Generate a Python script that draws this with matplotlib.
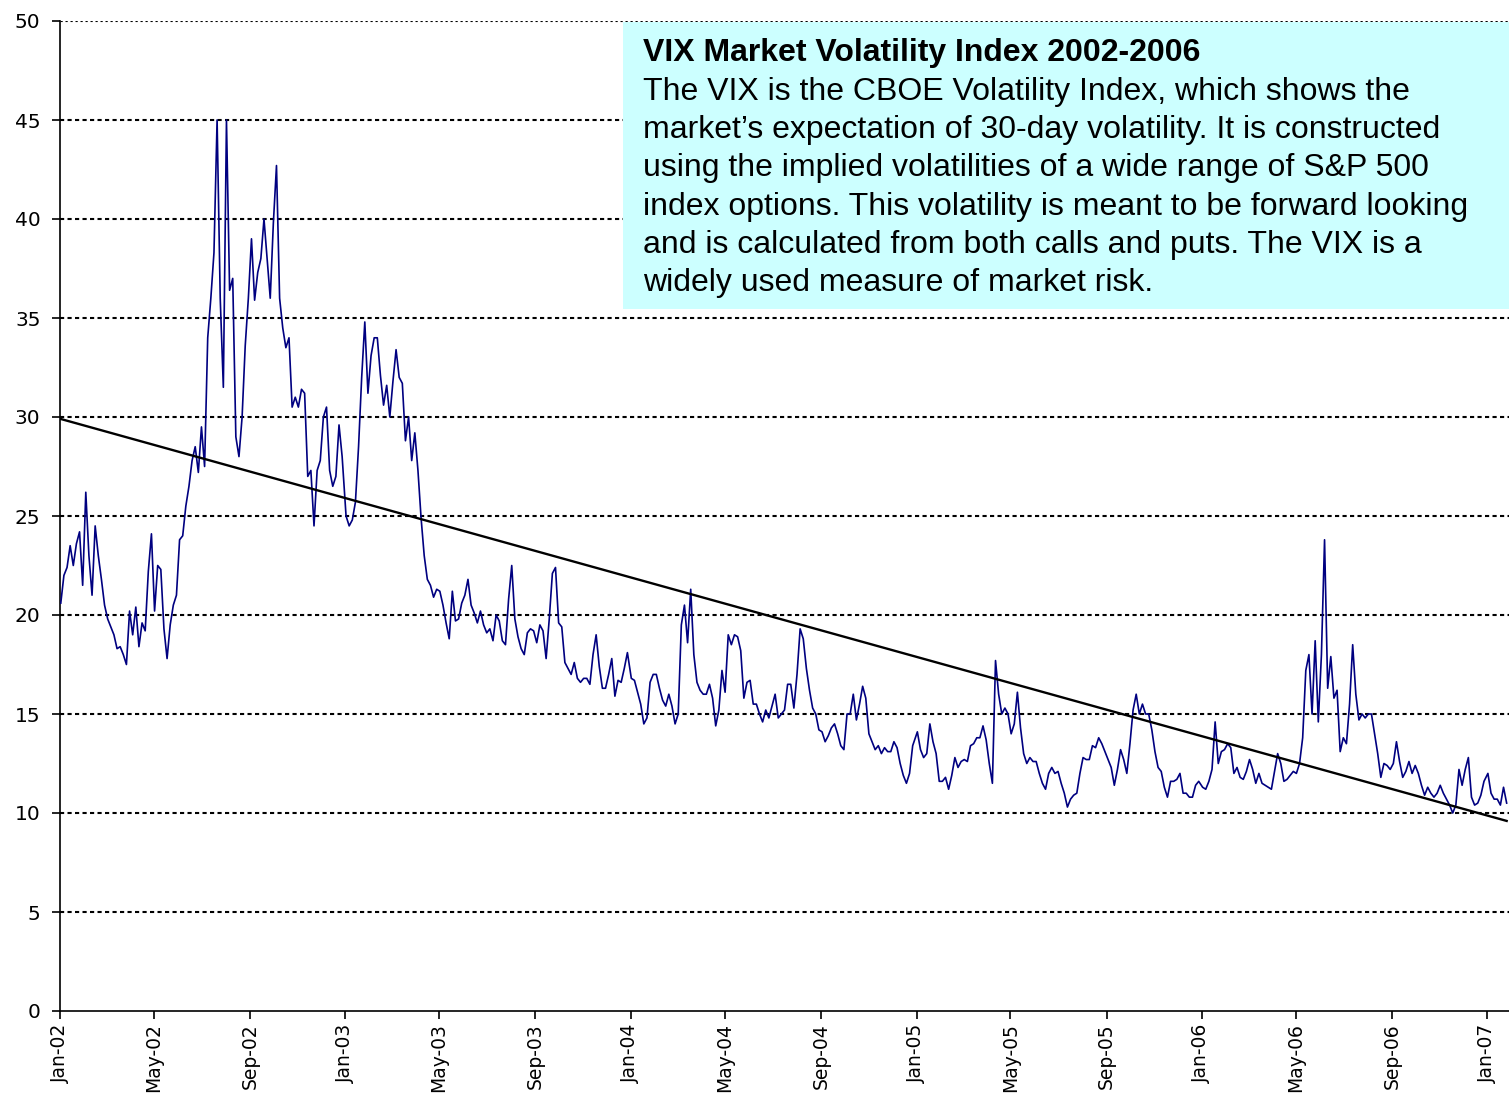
import numpy as np
import pandas as pd
import matplotlib
matplotlib.use("Agg")
import matplotlib.pyplot as plt
import matplotlib.dates as mdates
from matplotlib.patches import Rectangle

# VIX closes, one reading every 4 days from Jan 2 of each year
vix_2002 = [20.6, 22.0, 22.4, 23.5, 22.5, 23.6, 24.2, 21.5, 26.2, 23.0,
            21.0, 24.5, 23.0, 21.8, 20.5, 19.8, 19.4, 19.0, 18.3, 18.4,
            18.0, 17.5, 20.2, 19.0, 20.4, 18.4, 19.6, 19.2, 22.2, 24.1,
            20.2, 22.5, 22.3, 19.3, 17.8, 19.5, 20.5, 21.0, 23.8, 24.0,
            25.5, 26.5, 27.8, 28.5, 27.2, 29.5, 27.5, 34.0, 36.0, 38.3,
            45.0, 36.0, 31.5, 45.0, 36.4, 37.0, 29.0, 28.0, 30.0, 33.6,
            36.0, 39.0, 35.9, 37.3, 38.0, 40.0, 38.0, 36.0, 39.8, 42.7,
            36.0, 34.5, 33.5, 34.0, 30.5, 31.0, 30.5, 31.4, 31.2, 27.0,
            27.3, 24.5, 27.3, 27.8, 30.0, 30.5, 27.3, 26.5, 27.0, 29.6,
            28.0]
vix_2003 = [25.0, 24.5, 24.8, 25.7, 28.5, 32.0, 34.8, 31.2, 33.1, 34.0,
            34.0, 32.1, 30.6, 31.6, 30.0, 31.8, 33.4, 32.0, 31.7, 28.8,
            30.0, 27.8, 29.2, 27.3, 24.9, 23.0, 21.8, 21.5, 20.9, 21.3,
            21.2, 20.5, 19.6, 18.8, 21.2, 19.7, 19.8, 20.6, 21.0, 21.8,
            20.5, 20.1, 19.6, 20.2, 19.5, 19.1, 19.3, 18.7, 20.0, 19.7,
            18.7, 18.5, 20.8, 22.5, 19.8, 18.9, 18.3, 18.0, 19.1, 19.3,
            19.2, 18.6, 19.5, 19.2, 17.8, 19.8, 22.1, 22.4, 19.6, 19.4,
            17.6, 17.3, 17.0, 17.6, 16.8, 16.6, 16.8, 16.8, 16.5, 18.0,
            19.0, 17.4, 16.3, 16.3, 17.0, 17.8, 15.9, 16.7, 16.6, 17.3,
            18.1]
vix_2004 = [16.8, 16.7, 16.1, 15.5, 14.5, 14.8, 16.6, 17.0, 17.0, 16.3,
            15.7, 15.4, 16.0, 15.4, 14.5, 15.0, 19.5, 20.5, 18.6, 21.3,
            18.0, 16.6, 16.2, 16.0, 16.0, 16.5, 15.8, 14.4, 15.2, 17.2,
            16.1, 19.0, 18.5, 19.0, 18.9, 18.2, 15.8, 16.6, 16.7, 15.5,
            15.5, 15.0, 14.6, 15.2, 14.8, 15.4, 16.0, 14.8, 15.0, 15.2,
            16.5, 16.5, 15.3, 17.0, 19.3, 18.8, 17.3, 16.2, 15.3, 15.0,
            14.2, 14.1, 13.6, 13.9, 14.3, 14.5, 14.0, 13.4, 13.2, 15.0,
            15.0, 16.0, 14.7, 15.5, 16.4, 15.8, 14.0, 13.6, 13.2, 13.4,
            13.0, 13.3, 13.1, 13.1, 13.6, 13.3, 12.5, 11.9, 11.5, 12.0,
            13.4]
vix_2005 = [14.1, 13.2, 12.8, 13.0, 14.5, 13.6, 13.0, 11.6, 11.6, 11.8,
            11.2, 11.9, 12.8, 12.3, 12.6, 12.7, 12.6, 13.4, 13.5, 13.8,
            13.8, 14.4, 13.7, 12.5, 11.5, 17.7, 16.0, 15.0, 15.3, 15.0,
            14.0, 14.5, 16.1, 14.3, 13.0, 12.5, 12.8, 12.6, 12.6, 12.0,
            11.5, 11.2, 12.0, 12.3, 12.0, 12.1, 11.5, 11.0, 10.3, 10.7,
            10.9, 11.0, 12.0, 12.8, 12.7, 12.7, 13.4, 13.3, 13.8, 13.5,
            13.1, 12.7, 12.3, 11.4, 12.2, 13.2, 12.7, 12.0, 13.5, 15.2,
            16.0, 15.0, 15.5, 15.0, 15.0, 14.2, 13.1, 12.3, 12.1, 11.3,
            10.8, 11.6, 11.6, 11.7, 12.0, 11.0, 11.0, 10.8, 10.8, 11.4,
            11.6]
vix_2006 = [11.3, 11.2, 11.6, 12.2, 14.6, 12.5, 13.1, 13.2, 13.5, 13.3,
            12.0, 12.3, 11.8, 11.7, 12.1, 12.7, 12.2, 11.5, 12.0, 11.5,
            11.4, 11.3, 11.2, 12.1, 13.0, 12.5, 11.6, 11.7, 11.9, 12.1,
            12.0, 12.5, 13.8, 17.2, 18.0, 15.0, 18.7, 14.6, 18.0, 23.8,
            16.3, 17.9, 15.8, 16.2, 13.1, 13.8, 13.5, 15.5, 18.5, 16.0,
            14.7, 15.0, 14.8, 15.0, 15.0, 14.0, 13.0, 11.8, 12.5, 12.4,
            12.2, 12.5, 13.6, 12.6, 11.8, 12.1, 12.6, 12.0, 12.4, 12.0,
            11.4, 10.9, 11.3, 11.0, 10.8, 11.0, 11.4, 11.0, 10.7, 10.4,
            10.0, 10.4, 12.2, 11.4, 12.2, 12.8, 10.8, 10.4, 10.5, 10.9,
            11.6]
vix_2007 = [12.0, 11.0, 10.7, 10.7, 10.4, 11.3, 10.5]

years = [2002, 2003, 2004, 2005, 2006, 2007]
series = [vix_2002, vix_2003, vix_2004, vix_2005, vix_2006, vix_2007]

# linear trend as drawn on the chart: value at first and last reading
trend_ends = [29.9, 9.6]

title = "VIX Market Volatility Index 2002-2006"
blurb = [
    "The VIX is the CBOE Volatility Index, which shows the",
    "market\u2019s expectation of 30-day volatility. It is constructed",
    "using the implied volatilities of a wide range of S&P 500",
    "index options. This volatility is meant to be forward looking",
    "and is calculated from both calls and puts. The VIX is a",
    "widely used measure of market risk.",
]

# ---------- build series ----------
parts = []
for yr, vals in zip(years, series):
    idx = pd.date_range(f"{yr}-01-02", periods=len(vals), freq="4D")
    parts.append(pd.Series(vals, index=idx))
vix = pd.concat(parts)

# ---------- figure ----------
W, H = 1509, 1117
fig = plt.figure(figsize=(W / 100, H / 100), dpi=100)
ax = fig.add_axes([60 / W, 1 - 1011 / H, 1 - 60 / W, (1011 - 21) / H])

for v in range(5, 50, 5):
    ax.axhline(v, color="black", lw=1.5, ls=(0, (2, 1.6)), zorder=1)
ax.axhline(50, color="black", lw=0.8, ls=(0, (2, 2.5)), zorder=1)

ax.plot(vix.index, vix.values, color="#000080", lw=1.2, zorder=3)
ax.plot([vix.index[0], vix.index[-1]], trend_ends, color="black", lw=1.7, zorder=4)

ax.set_ylim(0, 50)
ax.set_yticks(range(0, 51, 5))
ax.set_xlim(pd.Timestamp("2002-01-01"), pd.Timestamp("2007-01-29"))
ax.xaxis.set_major_locator(mdates.MonthLocator(bymonth=[1, 5, 9]))
ax.xaxis.set_major_formatter(mdates.DateFormatter("%b-%y"))
ax.tick_params(axis="both", direction="out", length=6, width=1.2, colors="black")
ax.tick_params(axis="x", labelrotation=90, pad=3, labelsize=13.5)
ax.tick_params(axis="y", pad=8, labelsize=14.5)
for lab in ax.get_xticklabels() + ax.get_yticklabels():
    lab.set_family("DejaVu Sans")
for s in ["top", "right"]:
    ax.spines[s].set_visible(False)
for s in ["left", "bottom"]:
    ax.spines[s].set_linewidth(1.2)

# ---------- note box ----------
fig.patches.append(Rectangle((623 / W, 1 - 309 / H), 1 - 623 / W, (309 - 22) / H,
                             transform=fig.transFigure, facecolor="#CCFFFF",
                             edgecolor="none", zorder=5))
fig.text(643 / W, 1 - 53 / H, title, family="Liberation Sans", weight="bold",
         fontsize=23, va="center", ha="left", zorder=6)
for i, line in enumerate(blurb):
    fig.text(643 / W, 1 - (92 + 38.2 * i) / H, line, family="Liberation Sans",
             fontsize=23, va="center", ha="left", zorder=6)

fig.savefig("out.png", dpi=100)
